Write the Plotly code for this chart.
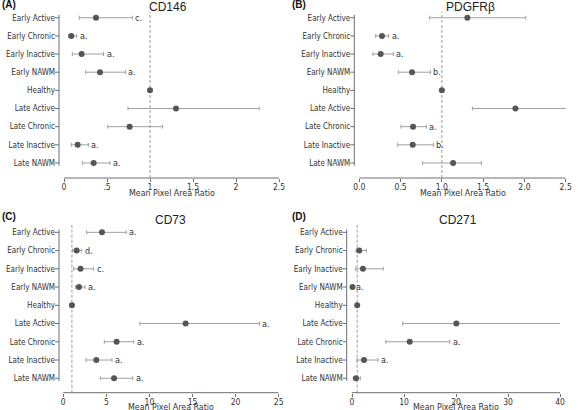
import plotly.graph_objects as go

W, H = 583, 410

categories = ["Early Active", "Early Chronic", "Early Inactive", "Early NAWM", "Healthy",
              "Late Active", "Late Chronic", "Late Inactive", "Late NAWM"]

# Panel A: CD146
a_mean = [0.372, 0.085, 0.205, 0.419, 1.0, 1.302, 0.763, 0.159, 0.345]
a_low = [0.178, 0.054, 0.097, 0.252, 1.0, 0.744, 0.508, 0.085, 0.213]
a_high = [0.795, 0.147, 0.46, 0.713, 1.0, 2.27, 1.147, 0.283, 0.535]
a_sig = ["c.", "a.", "a.", "a.", "", "", "", "a.", "a."]

# Panel B: PDGFRβ
b_mean = [1.309, 0.275, 0.259, 0.639, 1.0, 1.891, 0.651, 0.647, 1.136]
b_low = [0.853, 0.199, 0.166, 0.473, 1.0, 1.37, 0.505, 0.461, 0.764]
b_high = [2.017, 0.356, 0.412, 0.861, 1.0, 2.61, 0.812, 0.897, 1.479]
b_sig = ["", "a.", "a.", "b.", "", "a.", "a.", "b.", ""]

# Panel C: CD73
c_mean = [4.49, 1.55, 2.0, 1.82, 1.0, 14.2, 6.19, 3.83, 5.89]
c_low = [2.71, 1.08, 1.2, 1.43, 1.0, 8.9, 4.76, 2.63, 4.3]
c_high = [7.31, 2.12, 3.52, 2.52, 1.0, 22.76, 8.17, 5.65, 8.05]
c_sig = ["a.", "d.", "c.", "a.", "", "a.", "a.", "a.", "a."]

# Panel D: CD271
d_mean = [None, 1.4, 2.1, 0.1, 1.0, 20.06, 11.1, 2.3, 0.77]
d_low = [None, 0.77, 0.71, 0.05, 1.0, 9.75, 6.5, 0.96, 0.25]
d_high = [None, 2.75, 6.0, 0.2, 1.0, 41.3, 18.8, 5.0, 1.6]
d_sig = ["", "", "", "a.", "", "a.", "a.", "a.", ""]

titles = ["CD146", "PDGFRβ", "CD73", "CD271"]
panel_tags = ["(A)", "(B)", "(C)", "(D)"]
x_max = [2.5, 2.5, 25, 40]
x_tickvals = [[0, 0.5, 1, 1.5, 2, 2.5], [0, 0.5, 1, 1.5, 2, 2.5],
              [0, 5, 10, 15, 20, 25], [0, 10, 20, 30, 40]]
x_ticktext = [["0", ".5", "1", "1.5", "2", "2.5"],
              ["0.0", "0.5", "1.0", "1.5", "2.0", "2.5"],
              ["0", "5", "10", "15", "20", "25"],
              ["0", "10", "20", "30", "40"]]
ref_value = 1.0
x_title = "Mean Pixel Area Ratio"

# pixel geometry of each panel
geo = [
    dict(x0=64, x1=279, yline=59, ytop=15, ybot=165.7, xline=178, dtop=12, tx=168, ty=7, lx=0, ly=4, atitle=192.5),
    dict(x0=359.3, x1=565.7, yline=354.3, ytop=15, ybot=165.7, xline=178, dtop=12, tx=470, ty=7, lx=290, ly=4, atitle=192.5),
    dict(x0=63.3, x1=278.7, yline=59, ytop=229.6, ybot=381, xline=392.7, dtop=225, tx=170, ty=220, lx=0, ly=216, atitle=407),
    dict(x0=352, x1=560, yline=346.7, ytop=229.6, ybot=381, xline=392.7, dtop=225, tx=458, ty=220, lx=290, ly=216, atitle=407),
]

data = [(a_mean, a_low, a_high, a_sig), (b_mean, b_low, b_high, b_sig),
        (c_mean, c_low, c_high, c_sig), (d_mean, d_low, d_high, d_sig)]

FONT = "Liberation Sans, Arial, sans-serif"
NARROW = "Liberation Sans Narrow, Arial Narrow, DejaVu Sans Condensed, sans-serif"
TXT = "#333333"
AXC = "#6e6e6e"
PT = "#555555"
ERR = "#a0a0a0"

def px_x(v):
    return v / W

def px_y(v):
    return 1 - v / H

fig = go.Figure()
annotations = []
shapes = []
layout_axes = {}
pad = 0.15

for i, (mean, low, high, sig) in enumerate(data):
    g = geo[i]
    n = "" if i == 0 else str(i + 1)
    xa, ya = "x" + n, "y" + n
    plus = [0 if m is None else h - m for m, h in zip(mean, high)]
    minus = [0 if m is None else m - l for m, l in zip(mean, low)]
    fig.add_trace(go.Scatter(
        x=mean, y=categories, mode="markers", xaxis=xa, yaxis=ya,
        marker=dict(size=6, color=PT),
        error_x=dict(type="data", symmetric=False, array=plus, arrayminus=minus,
                     color=ERR, thickness=1, width=2),
        cliponaxis=False, showlegend=False, hoverinfo="x+y"))
    for cat, h, s in zip(categories, high, sig):
        if s and h is not None:
            annotations.append(dict(x=h, y=cat, xref=xa, yref=ya, text=s, showarrow=False,
                                    xanchor="left", yanchor="middle", xshift=1,
                                    font=dict(family=NARROW, size=9, color=TXT)))
    # the x range starts a few px left of the detached y-axis line so that the
    # line and its tick marks fall inside the panel
    ppu = (g["x1"] - g["x0"]) / x_max[i]
    dom_left = g["yline"] - 6
    xmin = -(g["x0"] - dom_left) / ppu
    yl_val = -(g["x0"] - g["yline"]) / ppu
    layout_axes["xaxis" + n] = dict(
        domain=[px_x(dom_left), px_x(g["x1"])], range=[xmin, x_max[i]],
        anchor="free", position=px_y(g["xline"]), automargin=False,
        showline=False, ticks="outside", ticklen=3,
        tickcolor=AXC, tickvals=x_tickvals[i], ticktext=x_ticktext[i],
        ticklabelstandoff=-2,
        tickfont=dict(family=NARROW, size=8.5, color=TXT), showgrid=False, zeroline=False,
    )
    layout_axes["yaxis" + n] = dict(
        domain=[px_y(g["ybot"]), px_y(g["ytop"])], range=[len(categories) - 1 + pad, -pad],
        type="category", categoryorder="array", categoryarray=categories,
        anchor=xa, automargin=False, showline=False, ticks="",
        ticklabelstandoff=-3,
        tickfont=dict(family=NARROW, size=8, color=TXT),
        showgrid=False, zeroline=False,
    )
    # y-axis line and tick marks
    shapes.append(dict(type="line", xref=xa, yref="paper", x0=yl_val, x1=yl_val,
                       y0=px_y(g["ybot"]), y1=px_y(g["ytop"]),
                       line=dict(color=AXC, width=1)))
    for cat in categories:
        shapes.append(dict(type="line", xref=xa, yref=ya, x0=yl_val - 4 / ppu, x1=yl_val,
                           y0=cat, y1=cat, line=dict(color=AXC, width=1)))
    # x-axis baseline spanning 0..max only
    shapes.append(dict(type="line", xref=xa, yref="paper", x0=0, x1=x_max[i],
                       y0=px_y(g["xline"]), y1=px_y(g["xline"]),
                       line=dict(color=AXC, width=1)))
    shapes.append(dict(type="line", xref=xa, yref="paper", x0=ref_value, x1=ref_value,
                       y0=px_y(g["xline"]), y1=px_y(g["dtop"]),
                       line=dict(color="#9a9a9a", width=1, dash="3px,2px"), layer="below"))
    annotations.append(dict(x=(px_x(g["x0"]) + px_x(g["x1"])) / 2, y=px_y(g["atitle"]),
                            xref="paper", yref="paper", text=x_title, showarrow=False,
                            xanchor="center", yanchor="middle",
                            font=dict(family=NARROW, size=8.8, color=TXT)))
    annotations.append(dict(x=px_x(g["tx"]), y=px_y(g["ty"]), xref="paper", yref="paper",
                            text=titles[i], showarrow=False, xanchor="center", yanchor="middle",
                            font=dict(family=FONT, size=12, color="#222222")))
    annotations.append(dict(x=px_x(g["lx"]), y=px_y(g["ly"]), xref="paper", yref="paper",
                            text="<b>" + panel_tags[i] + "</b>", showarrow=False,
                            xanchor="left", yanchor="middle",
                            font=dict(family=FONT, size=10, color="#111111")))

fig.update_layout(
    width=W, height=H, margin=dict(l=0, r=0, t=0, b=0, autoexpand=False),
    paper_bgcolor="white", plot_bgcolor="white",
    annotations=annotations, shapes=shapes, showlegend=False,
    **layout_axes,
)

fig.write_html("out.html", config={"displayModeBar": False},
               post_script="document.body.style.margin='0';document.body.style.overflow='hidden';")
